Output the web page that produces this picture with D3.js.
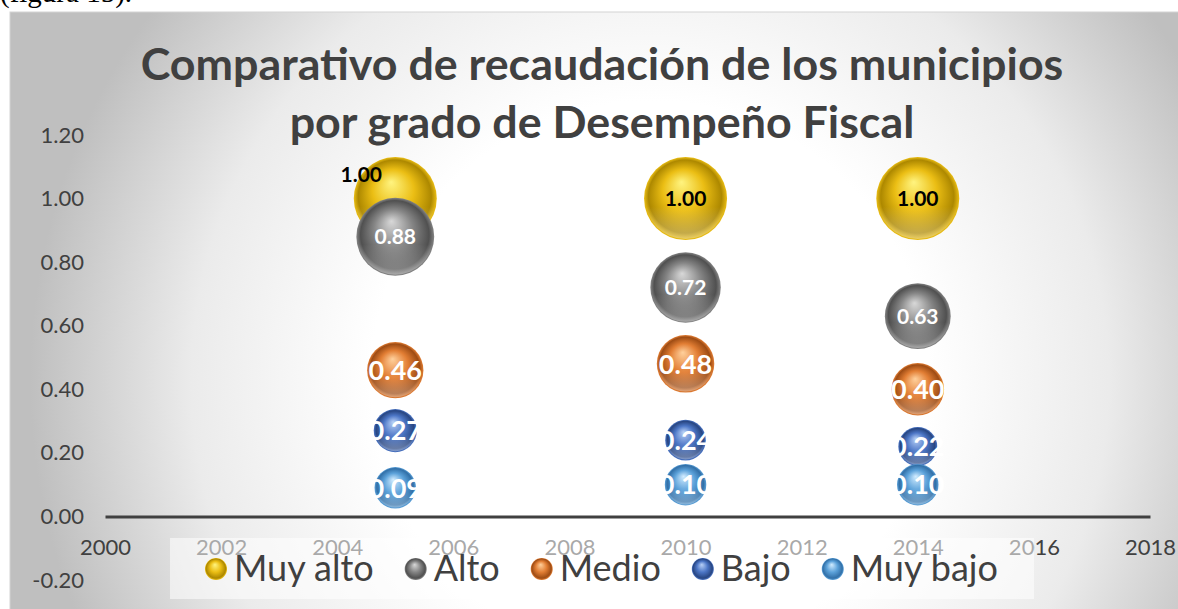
<!DOCTYPE html>
<html>
<head>
<meta charset="utf-8">
<script src="https://cdn.jsdelivr.net/npm/d3@7"></script>
<style>
body { margin: 0; background: #fff; }
svg { display: block; }
</style>
</head>
<body>
<svg id="chart" width="1178" height="609"></svg>
<script>
// data
var years = [2005, 2010, 2014];
var seriesNames = ["Muy alto", "Alto", "Medio", "Bajo", "Muy bajo"];
var muyAlto = [1.00, 1.00, 1.00];
var alto = [0.88, 0.72, 0.63];
var medio = [0.46, 0.48, 0.40];
var bajo = [0.27, 0.24, 0.22];
var muyBajo = [0.09, 0.10, 0.10];
// bubble sizes (the light blue ones are drawn bigger than their value)
var sizeMuyAlto = [1.00, 1.00, 1.00];
var sizeAlto = [0.88, 0.72, 0.63];
var sizeMedio = [0.46, 0.48, 0.40];
var sizeBajo = [0.27, 0.24, 0.22];
var sizeMuyBajo = [0.25, 0.25, 0.25];
var xTicks = [2000, 2002, 2004, 2006, 2008, 2010, 2012, 2014, 2016, 2018];
var yTicks = [-0.2, 0, 0.2, 0.4, 0.6, 0.8, 1.0, 1.2];
var titleLines = ["Comparativo de recaudación de los municipios", "por grado de Desempeño Fiscal"];

var values = [muyAlto, alto, medio, bajo, muyBajo];
var sizes = [sizeMuyAlto, sizeAlto, sizeMedio, sizeBajo, sizeMuyBajo];

// sphere colours: highlight, base, dark
var palette = [
    ["#fff480", "#ebbe14", "#ad8800"],
    ["#d8d8d8", "#858585", "#505050"],
    ["#ffd09c", "#e27e34", "#9e4c14"],
    ["#b8d0f6", "#4c76c6", "#284682"],
    ["#d2ecff", "#5ca2da", "#3270a8"]
];
var labelColor = ["#000", "#fff", "#fff", "#fff", "#fff"];
var labelSize = [21, 21, 27, 27, 27];

var font = "Lato, 'Open Sans', sans-serif";
var textGrey = "#404040";
// plain hyphen for negatives, like the original
var fmt = d3.formatLocale({decimal: ".", thousands: ",", grouping: [3], currency: ["", ""], minus: "-"}).format(".2f");

var svg = d3.select("#chart");
var defs = svg.append("defs");

// background of the chart box
var bg = defs.append("radialGradient")
    .attr("id", "bg")
    .attr("gradientUnits", "userSpaceOnUse")
    .attr("cx", 650).attr("cy", 380).attr("r", 620);
bg.append("stop").attr("offset", 0).attr("stop-color", "#ffffff");
bg.append("stop").attr("offset", 0.45).attr("stop-color", "#ffffff");
bg.append("stop").attr("offset", 0.74).attr("stop-color", "#ebebeb");
bg.append("stop").attr("offset", 1).attr("stop-color", "#bfbfbf");

palette.forEach(function(c, i) {
    var g = defs.append("radialGradient")
        .attr("id", "ball" + i)
        .attr("cx", 0.5).attr("cy", 0.5).attr("r", 0.5)
        .attr("fx", 0.45).attr("fy", 0.3);
    g.append("stop").attr("offset", 0).attr("stop-color", c[0]);
    g.append("stop").attr("offset", 0.5).attr("stop-color", c[1]);
    g.append("stop").attr("offset", 0.88).attr("stop-color", c[2]);
    g.append("stop").attr("offset", 1).attr("stop-color", c[1]);
});
// soft light at the bottom of every ball
var rim = defs.append("linearGradient")
    .attr("id", "rim").attr("x1", 0).attr("y1", 0).attr("x2", 0).attr("y2", 1);
rim.append("stop").attr("offset", 0.6).attr("stop-color", "#fff").attr("stop-opacity", 0);
rim.append("stop").attr("offset", 1).attr("stop-color", "#fff").attr("stop-opacity", 0.35);

// caption text cut by the top of the picture
svg.append("text")
    .attr("x", 0).attr("y", 2)
    .style("font-family", "'Liberation Serif', serif")
    .style("font-size", "29px")
    .text("(figura 15).");

svg.append("rect")
    .attr("x", 10).attr("y", 12)
    .attr("width", 1200).attr("height", 620)
    .attr("fill", "url(#bg)")
    .attr("stroke", "#d4d4d4");

// title, sized to the width of the first line
var title = svg.append("g");
titleLines.forEach(function(t, i) {
    title.append("text")
        .attr("x", 602).attr("y", 80 + i * 58)
        .attr("text-anchor", "middle")
        .style("font-family", font)
        .style("font-weight", "bold")
        .style("fill", textGrey)
        .style("font-size", "44px")
        .text(t);
});
var w0 = title.select("text").node().getComputedTextLength();
title.selectAll("text").style("font-size", (44 * 923 / w0) + "px");

var x = d3.scaleLinear().domain([2000, 2018]).range([105, 1150]);
var y = d3.scaleLinear().domain([-0.2, 1.2]).range([580, 135]);
var r = d3.scaleSqrt().domain([0, 1]).range([0, 41.5]);

// y labels
var yAxis = svg.append("g")
    .attr("transform", "translate(105,0)")
    .call(d3.axisLeft(y).tickValues(yTicks).tickFormat(fmt).tickSize(0).tickPadding(21));
yAxis.select(".domain").remove();
yAxis.selectAll("text")
    .style("font-family", font).style("font-size", "22px").style("fill", textGrey);

// x axis along zero
var xAxis = svg.append("g")
    .attr("transform", "translate(0," + y(0) + ")")
    .call(d3.axisBottom(x).tickValues(xTicks).tickFormat(d3.format("d")).tickSize(0).tickSizeOuter(0).tickPadding(23));
xAxis.select(".domain").attr("stroke", "#404040").attr("stroke-width", 3);
xAxis.selectAll("text")
    .style("font-family", font).style("font-size", "22px").style("fill", textGrey);

// bubbles, series in order so later ones sit on top
var points = [];
values.forEach(function(vals, s) {
    vals.forEach(function(v, k) {
        points.push({s: s, year: years[k], value: v, size: sizes[s][k]});
    });
});

var balls = svg.append("g").selectAll("g")
    .data(points).enter().append("g")
    .attr("transform", function(d) { return "translate(" + x(d.year) + "," + y(d.value) + ")"; });
balls.append("circle")
    .attr("r", function(d) { return r(d.size); })
    .attr("fill", function(d) { return "url(#ball" + d.s + ")"; });
balls.append("circle")
    .attr("r", function(d) { return r(d.size) - 1; })
    .attr("fill", "url(#rim)");

// the first label of "Muy alto" was moved up and left in the original
var labelNudge = {"0-2005": [-34, -24]};
svg.append("g").selectAll("text")
    .data(points).enter().append("text")
    .attr("x", function(d) {
        var n = labelNudge[d.s + "-" + d.year];
        return x(d.year) + (n ? n[0] : 0);
    })
    .attr("y", function(d) {
        var n = labelNudge[d.s + "-" + d.year];
        return y(d.value) + (n ? n[1] : 0);
    })
    .attr("dy", "0.36em")
    .attr("text-anchor", "middle")
    .style("font-family", font)
    .style("font-weight", "bold")
    .style("font-size", function(d) { return labelSize[d.s] + "px"; })
    .style("fill", function(d) { return labelColor[d.s]; })
    .text(function(d) { return fmt(d.value); });

// legend
var legend = svg.append("g");
legend.append("rect")
    .attr("x", 170).attr("y", 538)
    .attr("width", 864).attr("height", 61)
    .attr("fill", "#fff").attr("fill-opacity", 0.55);

var lx = 216;
seriesNames.forEach(function(name, i) {
    legend.append("circle")
        .attr("cx", lx).attr("cy", 569).attr("r", 11)
        .attr("fill", "url(#ball" + i + ")");
    var t = legend.append("text")
        .attr("x", lx + 18).attr("y", 581)
        .style("font-family", font)
        .style("font-size", "36px")
        .style("fill", textGrey)
        .text(name);
    lx = lx + 18 + t.node().getComputedTextLength() + 42;
});
</script>
</body>
</html>
